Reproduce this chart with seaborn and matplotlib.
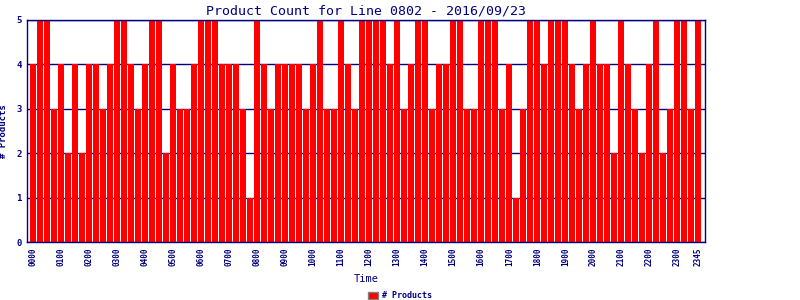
import matplotlib
matplotlib.use("Agg")
import matplotlib.pyplot as plt
import matplotlib.patches as mpatches
import seaborn as sns
import pandas as pd

times = ["0000", "0015", "0030", "0045", "0100", "0115", "0130", "0145",
         "0200", "0215", "0230", "0245", "0300", "0315", "0330", "0345",
         "0400", "0415", "0430", "0445", "0500", "0515", "0530", "0545",
         "0600", "0615", "0630", "0645", "0700", "0715", "0730", "0745",
         "0800", "0815", "0830", "0845", "0900", "0915", "0930", "0945",
         "1000", "1015", "1030", "1045", "1100", "1115", "1130", "1145",
         "1200", "1215", "1230", "1245", "1300", "1315", "1330", "1345",
         "1400", "1415", "1430", "1445", "1500", "1515", "1530", "1545",
         "1600", "1615", "1630", "1645", "1700", "1715", "1730", "1745",
         "1800", "1815", "1830", "1845", "1900", "1915", "1930", "1945",
         "2000", "2015", "2030", "2045", "2100", "2115", "2130", "2145",
         "2200", "2215", "2230", "2245", "2300", "2315", "2330", "2345"]

products = [4, 5, 5, 3, 4, 2, 4, 2, 4, 4, 3, 4, 5, 5, 4, 3, 4, 5, 5, 2, 4, 3, 3, 4,
            5, 5, 5, 4, 4, 4, 3, 1, 5, 4, 3, 4, 4, 4, 4, 3, 4, 5, 3, 3, 5, 4, 3, 5,
            5, 5, 5, 4, 5, 3, 4, 5, 5, 3, 4, 4, 5, 5, 3, 3, 5, 5, 5, 3, 4, 1, 3, 5,
            5, 4, 5, 5, 5, 4, 3, 4, 5, 4, 4, 2, 5, 4, 3, 2, 4, 5, 2, 3, 5, 5, 3, 5]

shown_labels = ["0000", "0100", "0200", "0300", "0400", "0500", "0600", "0700",
                "0800", "0900", "1000", "1100", "1200", "1300", "1400", "1500",
                "1600", "1700", "1800", "1900", "2000", "2100", "2200", "2300",
                "2345"]

title = "Product Count for Line 0802 - 2016/09/23"
y_ticks = [0, 1, 2, 3, 4, 5]

NAVY = "#000080"
RED = "#ff0000"

sns.set_style("white")
plt.rcParams["font.family"] = ["DejaVu Sans Mono", "DejaVu Sans"]

df = pd.DataFrame({"Time": times, "Products": products})

fig = plt.figure(figsize=(8, 3), dpi=100)
ax = fig.add_axes([27 / 800, 1 - 242 / 300, (705 - 27) / 800, (242 - 20) / 300])

sns.barplot(data=df, x="Time", y="Products", order=times, color=RED,
            saturation=1, width=6 / 7, ax=ax, linewidth=0, zorder=2)

ax.set_xlim(-0.86, len(times) - 0.05)
ax.set_ylim(0, 5)
ax.set_axisbelow(True)
ax.set_yticks(y_ticks)
ax.yaxis.grid(True, color=NAVY, linewidth=1)
ax.xaxis.grid(False)

pos = [times.index(t) for t in shown_labels]
ax.set_xticks(pos)
ax.set_xticklabels(shown_labels, rotation=90, fontsize=5.5, color=NAVY,
                   fontweight="bold")
ax.set_yticklabels([str(v) for v in y_ticks], fontsize=6.5, color=NAVY,
                   fontweight="bold")
ax.tick_params(axis="both", length=0, pad=4)

for s in ax.spines.values():
    s.set_visible(True)
    s.set_color(NAVY)
    s.set_linewidth(1)

ax.set_title(title, fontsize=9.5, color=NAVY, pad=4)
ax.set_xlabel("Time", fontsize=7.5, color=NAVY, labelpad=6)
ax.set_ylabel("# Products", fontsize=6.5, color=NAVY, labelpad=6,
              fontweight="bold")

handle = mpatches.Patch(facecolor=RED, edgecolor="#808080", linewidth=1,
                        label="# Products")
leg = fig.legend(handles=[handle], loc="lower center",
                 bbox_to_anchor=(400 / 800, -0.025), frameon=False,
                 prop={"size": 6, "weight": "bold"}, handlelength=1.2,
                 handleheight=0.9, handletextpad=0.5)
for t in leg.get_texts():
    t.set_color(NAVY)

fig.savefig("out.png", dpi=100)
